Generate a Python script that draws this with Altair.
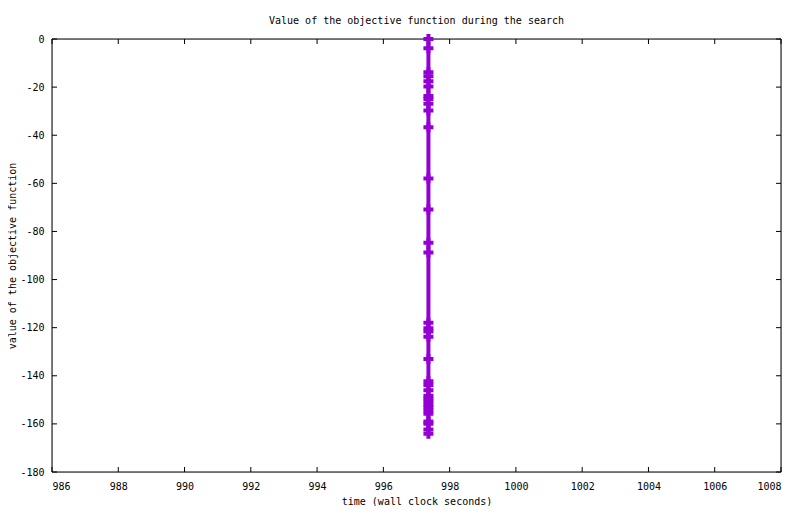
import altair as alt
import pandas as pd

# ---- data ----
time_s = [997.36]  # single wall-clock time shared by all records
values = [0, -3.8, -13.8, -15.5, -17.6, -19.7, -23.7, -24.9, -26.9, -29.7,
          -36.7, -58.0, -70.9, -84.7, -88.8, -118.0, -120.2, -121.6, -123.8,
          -133.0, -142.3, -143.8, -146.0, -148.3, -149.4, -150.6, -151.9,
          -153.1, -154.4, -155.8, -159.0, -159.9, -162.3, -164.1]
x_ticks = [986, 988, 990, 992, 994, 996, 998, 1000, 1002, 1004, 1006, 1008]
y_ticks = [-180, -160, -140, -120, -100, -80, -60, -40, -20, 0]

title_text = "Value of the objective function during the search"
x_title = "time (wall clock seconds)"
y_title = "value of the objective function"

FONT = "DejaVu Sans Mono"
COLOR = "#9400D3"
W, H = 729, 433
TICK = 5

df = pd.DataFrame({"time": [time_s[0]] * len(values), "value": values,
                   "idx": list(range(len(values)))})
xt = pd.DataFrame({"time": x_ticks})
yt = pd.DataFrame({"value": y_ticks})
frame_df = pd.DataFrame({"k": [0]})

xscale = alt.Scale(domain=[986, 1008], nice=False, zero=False)
yscale = alt.Scale(domain=[-180, 0], nice=False, zero=False)

xaxis = alt.Axis(values=x_ticks, ticks=False, domain=False, grid=False,
                 labelExpr="'' + datum.value", labelPadding=9,
                 labelFont=FONT, labelFontSize=10, labelColor="black",
                 titleFont=FONT, titleFontSize=10, titleFontWeight="normal",
                 titleColor="black", titleBaseline="middle", titleY=29)
yaxis = alt.Axis(values=y_ticks, ticks=False, domain=False, grid=False,
                 labelExpr="'' + datum.value", labelPadding=8,
                 labelFont=FONT, labelFontSize=10, labelColor="black",
                 titleFont=FONT, titleFontSize=10, titleFontWeight="normal",
                 titleColor="black", titleAngle=270, titleBaseline="middle",
                 titleAlign="center", titleX=-40, titleY=H / 2)

frame = alt.Chart(frame_df).mark_rect(fill=None, stroke="black",
                                      strokeWidth=1).encode(
    x=alt.value(0), x2=alt.value(W), y=alt.value(0), y2=alt.value(H))
line = alt.Chart(df).mark_line(color=COLOR, strokeWidth=4).encode(
    x=alt.X("time:Q", scale=xscale, axis=xaxis, title=x_title),
    y=alt.Y("value:Q", scale=yscale, axis=yaxis, title=y_title),
    order="idx:Q",
)
pts = alt.Chart(df).mark_point(shape="cross", filled=True, size=100,
                               color=COLOR, opacity=1).encode(
    x=alt.X("time:Q", scale=xscale),
    y=alt.Y("value:Q", scale=yscale),
)
xt_bottom = alt.Chart(xt).mark_rule(color="black", strokeWidth=1).encode(
    x=alt.X("time:Q", scale=xscale), y=alt.value(H), y2=alt.value(H - TICK))
xt_top = alt.Chart(xt).mark_rule(color="black", strokeWidth=1).encode(
    x=alt.X("time:Q", scale=xscale), y=alt.value(0), y2=alt.value(TICK))
yt_left = alt.Chart(yt).mark_rule(color="black", strokeWidth=1).encode(
    y=alt.Y("value:Q", scale=yscale), x=alt.value(0), x2=alt.value(TICK))
yt_right = alt.Chart(yt).mark_rule(color="black", strokeWidth=1).encode(
    y=alt.Y("value:Q", scale=yscale), x=alt.value(W), x2=alt.value(W - TICK))

chart = alt.layer(frame, xt_bottom, xt_top, yt_left, yt_right, line, pts).properties(
    width=W, height=H,
    title=alt.TitleParams(text=title_text, font=FONT, fontSize=10,
                          fontWeight="normal", color="black", anchor="middle",
                          frame="group", offset=5),
    autosize=alt.AutoSizeParams(type="none"),
    padding={"left": 44, "top": 31, "right": 11, "bottom": 34},
).configure_view(stroke=None).configure(background="white")

chart.save("out.html", embed_options={"renderer": "svg", "actions": False})
